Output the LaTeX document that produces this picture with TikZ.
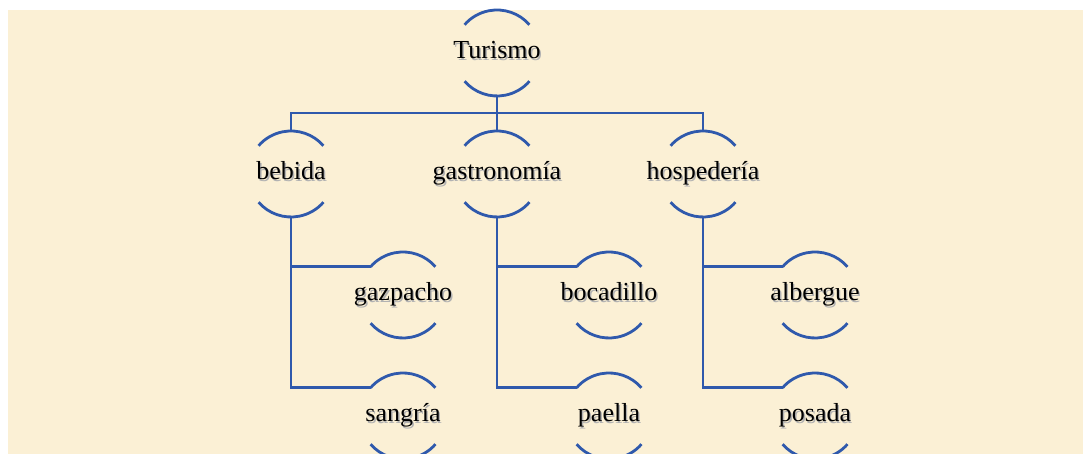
\documentclass[tikz,border=0pt]{standalone}
\usepackage{fontspec}
\setmainfont{Liberation Serif}
\definecolor{linkblue}{RGB}{47,89,172}
\definecolor{parchment}{RGB}{251,240,213}
% centred text of zero width with a soft grey drop shadow
\newcommand\shadowtext[1]{\makebox[0pt]{\rlap{\kern1.4pt\raisebox{-1.4pt}{\textcolor{black!30}{#1}}}#1}}

\begin{document}
\begin{tikzpicture}[x=1pt,y=1pt,
  term/.style={circle, minimum size=86pt, inner sep=0pt, outer sep=0pt,
    text height=12pt, text depth=0pt, font=\fontsize{26}{30}\selectfont},
  link/.style={draw=linkblue, line width=2.8pt}]
  \useasboundingbox (0,0) rectangle (1083,454);
  \clip (0,0) rectangle (1083,454);
  \fill[white] (0,0) rectangle (1083,454);
  \fill[parchment] (8,0) rectangle (1083,444);

  % terms
  \node[term] (tur) at (497,401) {\shadowtext{Turismo}};
  \node[term] (beb) at (291,280) {\shadowtext{bebida}};
  \node[term] (gas) at (497,280) {\shadowtext{gastronomía}};
  \node[term] (hos) at (703,280) {\shadowtext{hospedería}};
  \node[term] (gaz) at (403,159) {\shadowtext{gazpacho}};
  \node[term] (san) at (403,38)  {\shadowtext{sangría}};
  \node[term] (boc) at (609,159) {\shadowtext{bocadillo}};
  \node[term] (pae) at (609,38)  {\shadowtext{paella}};
  \node[term] (alb) at (815,159) {\shadowtext{albergue}};
  \node[term] (pos) at (815,38)  {\shadowtext{posada}};

  % upper and lower brackets around each term
  \foreach \n in {tur,beb,gas,hos,gaz,san,boc,pae,alb,pos} {
    \draw[link] (\n.41) arc[start angle=41, end angle=139, radius=43];
    \draw[link] (\n.221) arc[start angle=221, end angle=319, radius=43];
  }

  % connectors
  \draw[link] (tur.south) -- (gas.north);
  \draw[link] (beb.north) -- ++(0,18) -| (hos.north);
  \foreach \p/\a/\b in {beb/gaz/san, gas/boc/pae, hos/alb/pos} {
    \draw[link] (\p.south) |- (\b.139);
    \draw[link] (\p.south |- \a.139) -- (\a.139);
  }
\end{tikzpicture}
\end{document}
